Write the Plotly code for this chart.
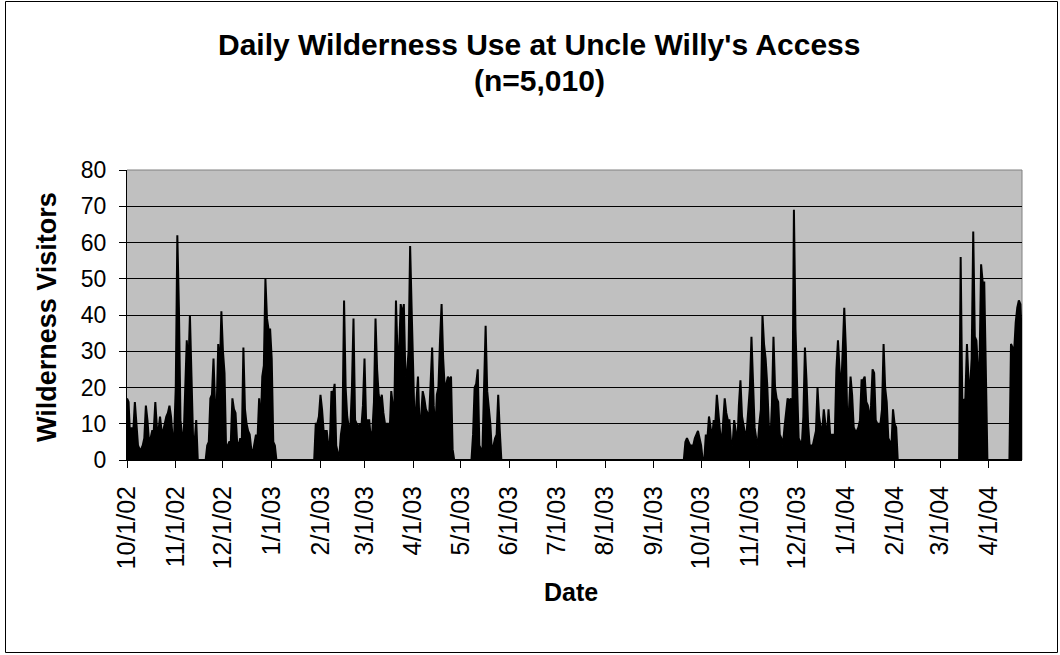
import datetime as dt
import pandas as pd
import plotly.graph_objects as go

# Daily visitor counts, grouped by contiguous recording periods (start date + daily values)
fall02_start = "2002-10-01"
fall02_visitors = [17, 16, 6, 9, 8, 16, 10, 4, 3, 3, 4, 6, 15, 11, 5, 6, 8, 8, 16, 9,
                   8, 12, 8, 8, 10, 12, 13, 15, 12, 6, 7, 20, 62, 42, 11, 7, 6, 22, 33, 25,
                   40, 23, 6, 5, 11]

winter02_start = "2002-11-21"
winter02_visitors = [4, 5, 17, 18, 28, 15, 14, 32, 24, 41, 30, 24, 3, 4, 5, 5, 17, 14, 13, 5,
                     4, 6, 5, 31, 14, 10, 8, 7, 3, 2, 5, 7, 6, 17, 9, 23, 26, 50, 39, 36,
                     36, 28, 5, 4]

spring03_start = "2003-01-29"
spring03_visitors = [10, 10, 12, 18, 14, 8, 8, 8, 4, 5, 19, 18, 21, 4, 2, 1, 7, 10, 44, 20,
                     12, 9, 9, 20, 39, 11, 10, 9, 10, 9, 15, 28, 11, 11, 11, 6, 8, 16, 39, 25,
                     18, 16, 18, 13, 10, 10, 10, 8, 19, 15, 15, 44, 29, 30, 43, 40, 43, 23, 24, 30,
                     59, 41, 20, 7, 16, 23, 9, 12, 19, 17, 14, 13, 11, 23, 31, 15, 8, 18, 20, 33,
                     43, 28, 20, 21, 23, 22, 23, 3]

may03_start = "2003-05-09"
may03_visitors = [7, 20, 21, 25, 4, 3, 3, 20, 37, 19, 15, 10, 2, 4, 6, 7, 18, 8]

sep03_start = "2003-09-21"
sep03_visitors = [5, 6, 5, 4, 4, 4, 6, 7, 8, 6, 4]

fall03_start = "2003-10-04"
fall03_visitors = [7, 6, 12, 9, 6, 11, 10, 18, 12, 8, 4, 10, 17, 13, 11, 11, 5, 4, 11, 8,
                   4, 15, 22, 12, 9, 7, 8, 15, 20, 34, 18, 9, 6, 4, 10, 14, 40, 32, 28, 21,
                   10, 5, 15, 34, 20, 17, 16, 7, 6, 4, 9, 14, 17, 16, 17, 10, 69, 36, 20, 6,
                   5, 4, 12, 31, 22, 10, 4, 4, 4, 6, 8, 20, 12, 9, 8, 14, 10, 6, 14, 7,
                   7, 7, 7, 25, 33, 25, 19, 30, 42, 31, 9, 14, 23, 18, 9, 8, 8, 9, 11, 22,
                   22, 23, 16, 15, 11, 15, 25, 24, 11, 10, 10, 10, 14, 32, 20, 16, 6, 5, 4, 14,
                   10, 9]

mar04_start = "2004-03-14"
mar04_visitors = [56, 17, 16, 17, 32, 22, 20, 28, 63, 34, 33, 25, 26, 54, 49, 49, 25]

apr04_start = "2004-04-15"
apr04_visitors = [32, 31, 30, 38, 42, 44, 43, 32]

periods = [
    (fall02_start, fall02_visitors),
    (winter02_start, winter02_visitors),
    (spring03_start, spring03_visitors),
    (may03_start, may03_visitors),
    (sep03_start, sep03_visitors),
    (fall03_start, fall03_visitors),
    (mar04_start, mar04_visitors),
    (apr04_start, apr04_visitors),
]

first_day = "2002-10-01"
last_day = "2004-04-22"
tick_months = pd.date_range("2002-10-01", "2004-04-01", freq="MS")
tick_labels = [f"{d.month}/{d.day}/{d.year % 100:02d}" for d in tick_months]

# Full daily series: days without recorded use are zero
days = pd.date_range(first_day, last_day, freq="D")
series = pd.Series(0.0, index=days)
for start, vals in periods:
    idx = pd.date_range(start, periods=len(vals), freq="D")
    series.loc[idx] = vals

FONT = "Arial, 'Liberation Sans', sans-serif"

fig = go.Figure()
fig.add_trace(go.Scatter(
    x=series.index, y=series.values,
    mode="lines",
    line=dict(color="black", width=2),
    fill="tozeroy", fillcolor="black",
    hoverinfo="x+y", showlegend=False,
))

L, R, T, B = 127, 38, 170, 195
W, H = 1060, 655
PW, PH = W - L - R, H - T - B


def px_x(px):
    return (px - L) / PW


def px_y(py):
    return (H - B - py) / PH


fig.update_layout(
    width=W, height=H,
    margin=dict(l=L, r=R, t=T, b=B, pad=0),
    paper_bgcolor="white",
    plot_bgcolor="#C0C0C0",
    font=dict(family=FONT, color="black"),
    xaxis=dict(
        type="date",
        range=[first_day, last_day],
        tickvals=list(tick_months),
        ticktext=tick_labels,
        tickangle=-90,
        tickfont=dict(size=25, family=FONT, color="black"),
        ticks="outside", ticklen=7, tickwidth=1, tickcolor="black",
        ticklabelstandoff=8,
        showline=True, linecolor="black", linewidth=1,
        showgrid=False, zeroline=False,
    ),
    yaxis=dict(
        range=[0, 80],
        tickvals=[0, 10, 20, 30, 40, 50, 60, 70, 80],
        tickfont=dict(size=23, family=FONT, color="black"),
        ticks="outside", ticklen=7, tickwidth=1, tickcolor="black",
        ticklabelstandoff=8,
        showline=True, linecolor="black", linewidth=1,
        showgrid=True, gridcolor="black", gridwidth=1,
        zeroline=False,
    ),
    annotations=[
        dict(text="<b>Daily Wilderness Use at Uncle Willy's Access</b>",
             xref="paper", yref="paper", x=px_x(539), y=px_y(45),
             xanchor="center", yanchor="middle", showarrow=False,
             font=dict(size=30, family=FONT, color="black")),
        dict(text="<b>(n=5,010)</b>",
             xref="paper", yref="paper", x=px_x(539), y=px_y(80),
             xanchor="center", yanchor="middle", showarrow=False,
             font=dict(size=30, family=FONT, color="black")),
        dict(text="<b>Wilderness Visitors</b>",
             xref="paper", yref="paper", x=px_x(47), y=px_y(317),
             xanchor="center", yanchor="middle", textangle=-90, showarrow=False,
             font=dict(size=27, family=FONT, color="black")),
        dict(text="<b>Date</b>",
             xref="paper", yref="paper", x=px_x(571), y=px_y(592),
             xanchor="center", yanchor="middle", showarrow=False,
             font=dict(size=25, family=FONT, color="black")),
    ],
    shapes=[
        # plot-area frame (top and right edges)
        dict(type="line", xref="paper", yref="paper", x0=0, x1=1, y0=1, y1=1,
             line=dict(color="#808080", width=1), layer="above"),
        dict(type="line", xref="paper", yref="paper", x0=1, x1=1, y0=0, y1=1,
             line=dict(color="#808080", width=1), layer="below"),
        # chart-area border
        dict(type="rect", xref="paper", yref="paper",
             x0=px_x(5.5), x1=px_x(1057.5), y0=px_y(652.5), y1=px_y(1.5),
             line=dict(color="black", width=1), fillcolor="rgba(0,0,0,0)", layer="above"),
    ],
)

fig.write_html("out.html")
